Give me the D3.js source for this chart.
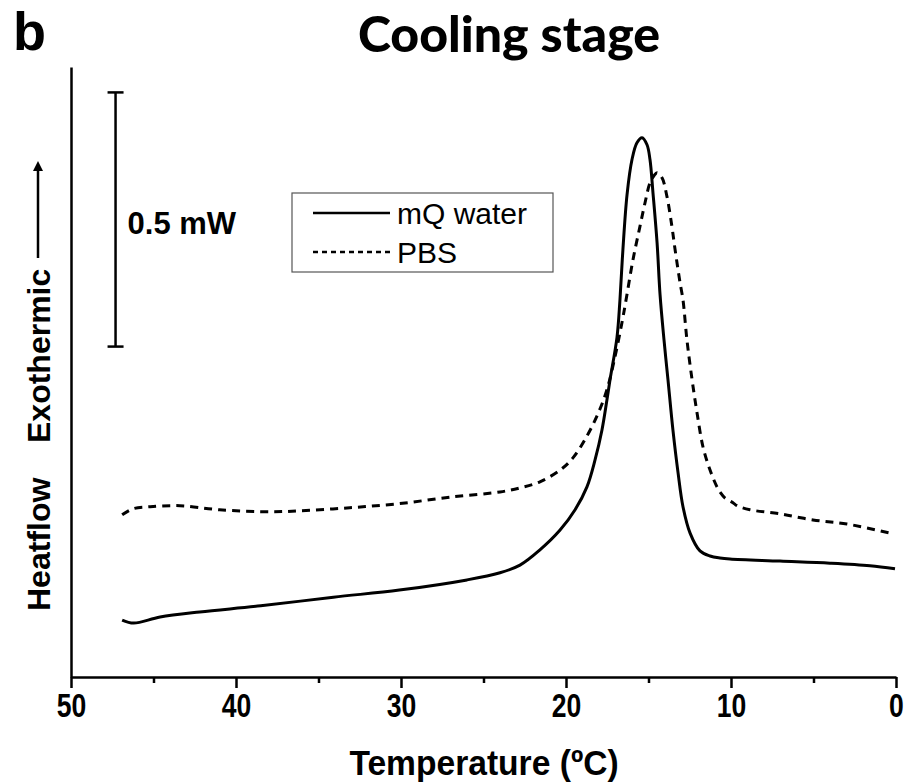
<!DOCTYPE html>
<html>
<head>
<meta charset="utf-8">
<script src="https://cdn.jsdelivr.net/npm/d3@7"></script>
<style>
  html, body { margin: 0; padding: 0; background: #fff; }
  svg { display: block; }
</style>
</head>
<body>
<svg id="chart" width="907" height="782"></svg>
<script>
// DSC cooling scans: temperature (°C) and heat flow (mW, arbitrary offset)
const waterTemp = [46.9, 46.2, 44.6, 42.2, 38.5, 34.1, 30.1, 26.0, 24.0, 22.79, 21.58, 20.36, 19.45, 18.73, 18.24, 17.82, 17.52, 17.33, 16.91, 16.73, 16.55, 16.3, 16.0, 15.7, 15.39, 15.09, 14.91, 14.73, 14.48, 14.3, 14.06, 13.82, 13.52, 13.21, 12.91, 12.48, 11.88, 11.27, 10.67, 10.06, 7.03, 4.0, 1.58, 0.06];
const waterFlow = [0.112, 0.106, 0.118, 0.128, 0.140, 0.157, 0.171, 0.191, 0.205, 0.220, 0.250, 0.289, 0.329, 0.374, 0.427, 0.486, 0.545, 0.585, 0.668, 0.742, 0.841, 0.949, 1.018, 1.051, 1.061, 1.047, 1.018, 0.953, 0.854, 0.752, 0.663, 0.585, 0.486, 0.402, 0.335, 0.283, 0.248, 0.238, 0.234, 0.232, 0.228, 0.224, 0.219, 0.213];

const pbsTemp = [46.9, 46.24, 45.2, 43.4, 41.0, 37.9, 36.1, 33.1, 30.1, 27.0, 24.0, 22.79, 21.58, 20.36, 19.58, 18.73, 18.06, 17.52, 17.03, 16.61, 16.36, 15.94, 15.52, 15.21, 14.91, 14.67, 14.48, 14.18, 13.88, 13.58, 13.39, 13.09, 12.91, 12.67, 12.36, 12.06, 11.7, 11.27, 10.85, 10.67, 10.36, 9.88, 9.64, 8.85, 7.03, 5.03, 2.97, 0.36];
const pbsFlow = [0.319, 0.331, 0.335, 0.337, 0.329, 0.325, 0.327, 0.333, 0.341, 0.354, 0.364, 0.372, 0.384, 0.407, 0.431, 0.474, 0.518, 0.565, 0.630, 0.697, 0.742, 0.821, 0.886, 0.933, 0.972, 0.986, 0.992, 0.982, 0.945, 0.886, 0.841, 0.776, 0.742, 0.663, 0.585, 0.520, 0.453, 0.407, 0.374, 0.364, 0.352, 0.343, 0.337, 0.329, 0.321, 0.309, 0.301, 0.283];

const seriesNames = ["mQ water", "PBS"];
const majorTicks = [50, 40, 30, 20, 10, 0];
const minorTicks = [45, 35, 25, 15, 5];
const scaleBar = [0.65, 1.15];   // 0.5 mW reference bar
const scaleBarTemp = 47.3;

const sans = "'Liberation Sans', Arial, Helvetica, sans-serif";
const svg = d3.select("#chart").style("font-family", sans);

const x = d3.scaleLinear().domain([50, 0]).range([71, 896]);
const y = d3.scaleLinear().domain([0, 1.2]).range([677, 67]);

// Axes
const xMajor = d3.axisBottom(x).tickValues(majorTicks).tickSize(11).tickSizeOuter(0).tickPadding(5).tickFormat(d3.format("d"));
const xMinor = d3.axisBottom(x).tickValues(minorTicks).tickSize(6).tickFormat("");

const gx = svg.append("g").attr("transform", `translate(0,${y(0)})`).call(xMajor);
gx.attr("font-family", null).attr("font-size", null);
gx.select(".domain").attr("stroke-width", 2.5);
gx.selectAll(".tick line").attr("stroke-width", 2.5);
gx.selectAll(".tick text")
  .style("font-family", sans)
  .style("font-size", "34px").style("font-weight", "bold")
  .attr("fill", "#000")
  .attr("transform", "scale(0.78,1)");

const gxm = svg.append("g").attr("transform", `translate(0,${y(0)})`).call(xMinor);
gxm.select(".domain").remove();
gxm.selectAll(".tick line").attr("stroke-width", 2.5);

const gy = svg.append("g").attr("transform", `translate(${x(50)},0)`)
  .call(d3.axisLeft(y).tickValues([]).tickSizeOuter(0));
gy.select(".domain").attr("stroke-width", 2.5);

// Axis titles
svg.append("text")
  .attr("x", 0).attr("y", 0)
  .attr("text-anchor", "middle")
  .attr("transform", "translate(484,775) scale(0.96,1)")
  .style("font-size", "35px").style("font-weight", "bold")
  .text("Temperature (ºC)");

svg.append("text")
  .attr("transform", "translate(50,611) rotate(-90)")
  .style("font-size", "32px").style("font-weight", "bold")
  .text("Heatflow");
svg.append("text")
  .attr("transform", "translate(50,443) rotate(-90)")
  .style("font-size", "32px").style("font-weight", "bold")
  .text("Exothermic");

// Exothermic direction arrow
svg.append("defs").append("marker")
  .attr("id", "arrowhead").attr("viewBox", "0 0 10 10")
  .attr("refX", 5).attr("refY", 5)
  .attr("markerWidth", 4).attr("markerHeight", 5)
  .attr("orient", "auto")
  .append("path").attr("d", "M0,0 L10,5 L0,10 Z").attr("fill", "#000");
svg.append("line")
  .attr("x1", 38).attr("x2", 38).attr("y1", 258).attr("y2", 166)
  .attr("stroke", "#000").attr("stroke-width", 2.5)
  .attr("marker-end", "url(#arrowhead)");

// Titles
svg.append("text")
  .attr("x", 13).attr("y", 50)
  .style("font-size", "54px").style("font-weight", "bold")
  .text("b");
svg.append("text")
  .attr("x", 509).attr("y", 52)
  .attr("text-anchor", "middle")
  .style("font-family", "Lato, 'Open Sans', sans-serif")
  .style("font-size", "50px").style("font-weight", "900")
  .text("Cooling stage");

// 0.5 mW scale bar
const sbx = x(scaleBarTemp);
const sb = svg.append("g").attr("stroke", "#000").attr("stroke-width", 2.5);
sb.append("line").attr("x1", sbx).attr("x2", sbx).attr("y1", y(scaleBar[0])).attr("y2", y(scaleBar[1]));
sb.append("line").attr("x1", sbx - 8).attr("x2", sbx + 8).attr("y1", y(scaleBar[0])).attr("y2", y(scaleBar[0]));
sb.append("line").attr("x1", sbx - 8).attr("x2", sbx + 8).attr("y1", y(scaleBar[1])).attr("y2", y(scaleBar[1]));
svg.append("text")
  .attr("x", sbx + 12).attr("y", 234)
  .style("font-size", "31px").style("font-weight", "bold")
  .text("0.5 mW");

// Curves
const line = d3.line()
  .x(d => x(d[0])).y(d => y(d[1]))
  .curve(d3.curveCatmullRom.alpha(0.5));

const waterData = waterTemp.map((t, i) => [t, waterFlow[i]]);
const pbsData = pbsTemp.map((t, i) => [t, pbsFlow[i]]);

svg.append("path").datum(waterData)
  .attr("d", line).attr("fill", "none")
  .attr("stroke", "#000").attr("stroke-width", 3);
svg.append("path").datum(pbsData)
  .attr("d", line).attr("fill", "none")
  .attr("stroke", "#000").attr("stroke-width", 3)
  .attr("stroke-dasharray", "8,6");

// Legend
const lg = svg.append("g");
lg.append("rect")
  .attr("x", 292).attr("y", 193).attr("width", 261).attr("height", 79)
  .attr("fill", "#fff").attr("stroke", "#555").attr("stroke-width", 1.2);
const dashes = [null, "5,4"];
seriesNames.forEach((name, i) => {
  const yy = 213 + i * 39;
  lg.append("line")
    .attr("x1", 313).attr("x2", 390).attr("y1", yy).attr("y2", yy)
    .attr("stroke", "#000").attr("stroke-width", 2.5)
    .attr("stroke-dasharray", dashes[i]);
  lg.append("text")
    .attr("x", 397).attr("y", yy + 11)
    .style("font-size", "30px")
    .text(name);
});
</script>
</body>
</html>
